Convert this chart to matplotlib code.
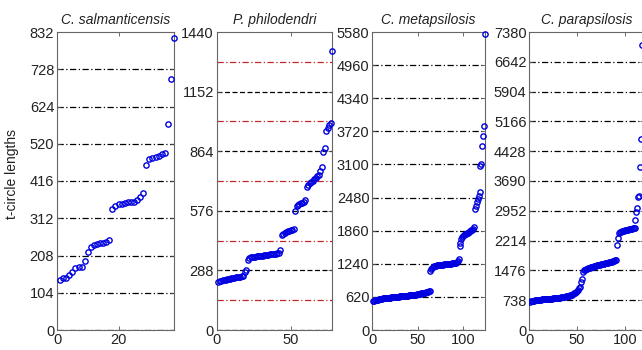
import matplotlib
matplotlib.use("Agg")
import matplotlib.pyplot as plt

plt.rcParams['font.family'] = ['Liberation Sans', 'DejaVu Sans']

titles = ["C. salmanticensis", "P. philodendri", "C. metapsilosis", "C. parapsilosis"]

salm = [140, 144, 145, 154, 163, 172, 177, 177, 193, 219, 233, 236, 239, 242, 244, 247, 252,
        337, 347, 351, 352, 354, 357, 357, 357, 364, 371, 382,
        461, 478, 481, 484, 487, 490, 494,
        576, 701, 816]

phil = [234, 236, 238, 240, 242, 243, 245, 246, 248, 249, 251, 252, 254, 255, 256, 258, 260, 262,
        280, 290,
        339, 350,
        352, 353, 354, 355, 356, 357, 358, 359, 360, 361, 362, 363, 364, 365, 366, 367, 368, 369, 370, 372,
        387,
        460, 466, 470, 473, 476, 479, 482, 485, 488,
        573,
        597, 603, 608, 612, 616, 620, 626,
        690, 700, 708, 715, 722, 728, 735, 742, 750,
        770, 790, 860, 880, 960, 976, 992, 1000,
        1347]

meta = [540, 548, 555, 560, 565, 570, 574, 578, 582, 585, 588, 591, 594, 596, 598, 600, 602, 604, 606, 608,
        610, 612, 614, 616, 618, 620, 622, 624, 626, 628, 630, 632, 634, 636, 638, 640, 642, 644, 646, 648,
        650, 652, 654, 656, 658, 660, 662, 664, 667, 670, 673, 676, 680, 684, 688, 692, 697, 702, 708, 714,
        720, 728, 736,
        1100, 1140, 1170, 1185, 1195, 1200, 1205, 1208, 1211, 1214, 1217, 1220, 1222, 1224, 1226, 1228,
        1230, 1232, 1234, 1236, 1238, 1240, 1242, 1244, 1246, 1248, 1251, 1255, 1260, 1266, 1290, 1326,
        1576, 1620, 1700, 1740, 1763,
        1780, 1795, 1805, 1815, 1825, 1835, 1845, 1855, 1868, 1880, 1900, 1920,
        2264, 2330, 2400, 2450, 2500, 2577,
        3077, 3108, 3452, 3640, 3827,
        5545]

para = [700, 712, 720, 726, 730, 734, 738, 741, 744, 747, 750, 753, 756, 759, 762, 764, 766, 768, 770, 772,
        774, 776, 778, 780, 782, 785, 788, 791, 794, 797, 800, 804, 808, 812, 816, 820, 825, 830, 835, 840,
        846, 852, 860, 868, 878, 889,
        905, 925, 950, 975, 1000, 1030, 1060,
        1200, 1260,
        1447, 1475, 1495, 1505, 1515, 1525, 1533, 1541, 1549, 1557, 1565, 1572, 1579, 1586, 1593, 1600,
        1606, 1612, 1618, 1624, 1630, 1636, 1642, 1648, 1654, 1660, 1666, 1672, 1678, 1684, 1690, 1697,
        1704, 1712, 1722, 1736,
        2107, 2272,
        2396, 2420, 2435, 2445, 2455, 2462, 2470, 2476, 2482, 2488, 2494, 2500, 2505, 2510, 2515, 2520, 2530,
        2724, 2930, 3013, 3300, 3320,
        4041, 4729, 7047]

series = [salm, phil, meta, para]
ymax = [832, 1440, 5580, 7380]
ystep = [104, 288, 620, 738]
xmax = [38, 78, 124, 120]
xticks = [[0, 20], [0, 50], [0, 50, 100], [0, 50, 100]]

W, H = 642, 350
lefts = [57, 216.7, 372.3, 529.3]
rights = [174, 332, 485, 644.1]
top_px, bot_px = 32, 330

fig = plt.figure(figsize=(W / 100, H / 100), dpi=100)

for i in range(4):
    ax = fig.add_axes([lefts[i] / W, 1 - bot_px / H, (rights[i] - lefts[i]) / W, (bot_px - top_px) / H])
    vals = series[i]
    xs = range(1, len(vals) + 1)
    yt = list(range(0, ymax[i] + 1, ystep[i]))

    # grid lines (matlab style)
    if i == 1:
        for v in yt[:-1]:
            ax.axhline(v, color='black', ls='--', lw=0.9, dashes=(4, 2), zorder=1)
        for v in yt[:-1]:
            ax.axhline(v + ystep[i] / 2, color='#c02828', ls='-.', lw=0.9,
                       dashes=(5, 2, 1, 2), zorder=1)
    else:
        for v in yt[:-1]:
            ax.axhline(v, color='black', ls='-.', lw=0.9, dashes=(5, 2, 1, 2), zorder=1)

    ax.plot(xs, vals, 'o', mfc='none', mec='#0000e0', ms=3.8, mew=1.0,
            clip_on=(i == 3), zorder=3)

    ax.set_xlim(0, xmax[i])
    ax.set_ylim(0, ymax[i])
    ax.set_yticks(yt)
    ax.set_xticks(xticks[i])
    ax.tick_params(direction='in', length=3, width=0.6, color='#555555',
                   top=True, right=True, labelsize=10.5, labelcolor='#222222', pad=2)
    for s in ax.spines.values():
        s.set_color('#666666')
        s.set_linewidth(0.8)
    ax.set_title(titles[i], style='italic', fontsize=10, color='#222222', pad=6)

fig.text(12 / W, 1 - 174 / H, "t-circle lengths", rotation=90, ha='center', va='center',
         fontsize=10, color='#222222')

fig.savefig("out.png", dpi=100)
